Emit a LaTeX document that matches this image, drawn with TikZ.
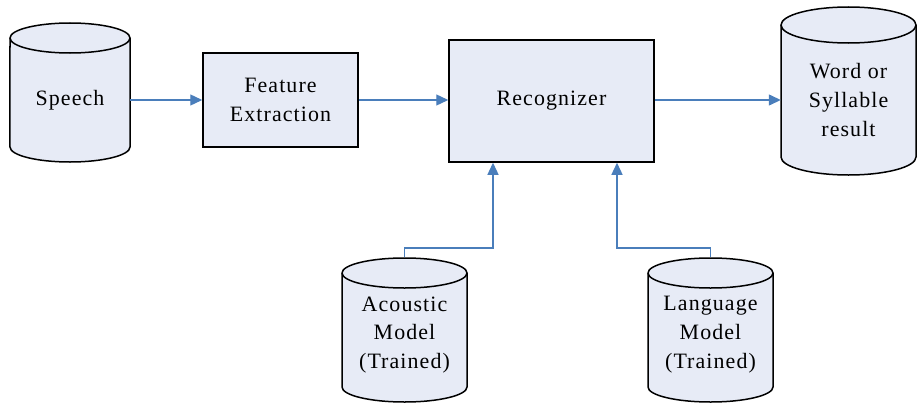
\documentclass[tikz,border=0pt]{standalone}
\usepackage{fontspec}
\setmainfont{Liberation Serif}[LetterSpace=5]
\usetikzlibrary{arrows.meta,calc}

\definecolor{panel}{RGB}{231,235,246}
\definecolor{wire}{RGB}{74,126,187}

\tikzset{
  txt/.style={font=\fontsize{22}{29}\selectfont, align=center, inner sep=0pt},
  stage/.style={txt, draw=black, line width=1.5bp, fill=panel},
  drumtext/.style={txt, minimum height=30bp},
  drumline/.style={draw=black, line width=1.5bp, fill=panel},
  link/.style={draw=wire, line width=1.3bp, -{Triangle[length=12bp,width=11bp]}},
}

% storage drum: left x, right x, y of upper side ends, y of lower side ends, ellipse half height
\newcommand\drumbody[5]{%
  \pgfmathsetmacro\drx{(#2-#1)/2}%
  \path[drumline] (#1,#3) arc[start angle=180,end angle=0,x radius=\drx bp,y radius=#5bp]
    -- (#2,#4) arc[start angle=0,end angle=-180,x radius=\drx bp,y radius=#5bp] -- cycle;
  \draw[black,line width=1.5bp] (#1,#3) arc[start angle=180,end angle=360,x radius=\drx bp,y radius=#5bp];
}

\begin{document}
\begin{tikzpicture}[x=1bp,y=1bp]
\useasboundingbox (0,0) rectangle (920,403);

% drums
\drumbody{10}{130}{365}{256}{15}
\drumbody{781}{916}{378}{246}{18}
\drumbody{342}{467}{130}{16}{15}
\drumbody{648}{773}{130}{16}{15}

\node[drumtext, minimum width=120bp] (speech) at (70,303) {Speech};
\node[drumtext, minimum width=135bp] (result) at (848.5,303) {Word or\\Syllable\\result};
\node[drumtext, minimum width=125bp] (acoustic) at (404.5,68) {Acoustic\\Model\\(Trained)};
\node[drumtext, minimum width=125bp] (language) at (710.5,68) {Language\\Model\\(Trained)};
\coordinate (acoustic-top) at (404.5,146);
\coordinate (language-top) at (710.5,146);

% processing stages
\node[stage, minimum width=155bp, minimum height=94bp] (feature) at (280.5,303) {Feature\\Extraction};
\node[stage, minimum width=205bp, minimum height=122bp] (recog) at (551.5,302) {Recognizer};

% connectors
\draw[link] (speech.east) -- (feature.west);
\draw[link] (feature.east) -- (feature.east -| recog.west);
\draw[link] (recog.east |- feature.east) -- (result.west |- feature.east);
\draw[link] (acoustic-top) -- ++(0,9) -| ([xshift=-58.5bp]recog.south);
\draw[link] (language-top) -- ++(0,9) -| ([xshift=65.5bp]recog.south);
\end{tikzpicture}
\end{document}
